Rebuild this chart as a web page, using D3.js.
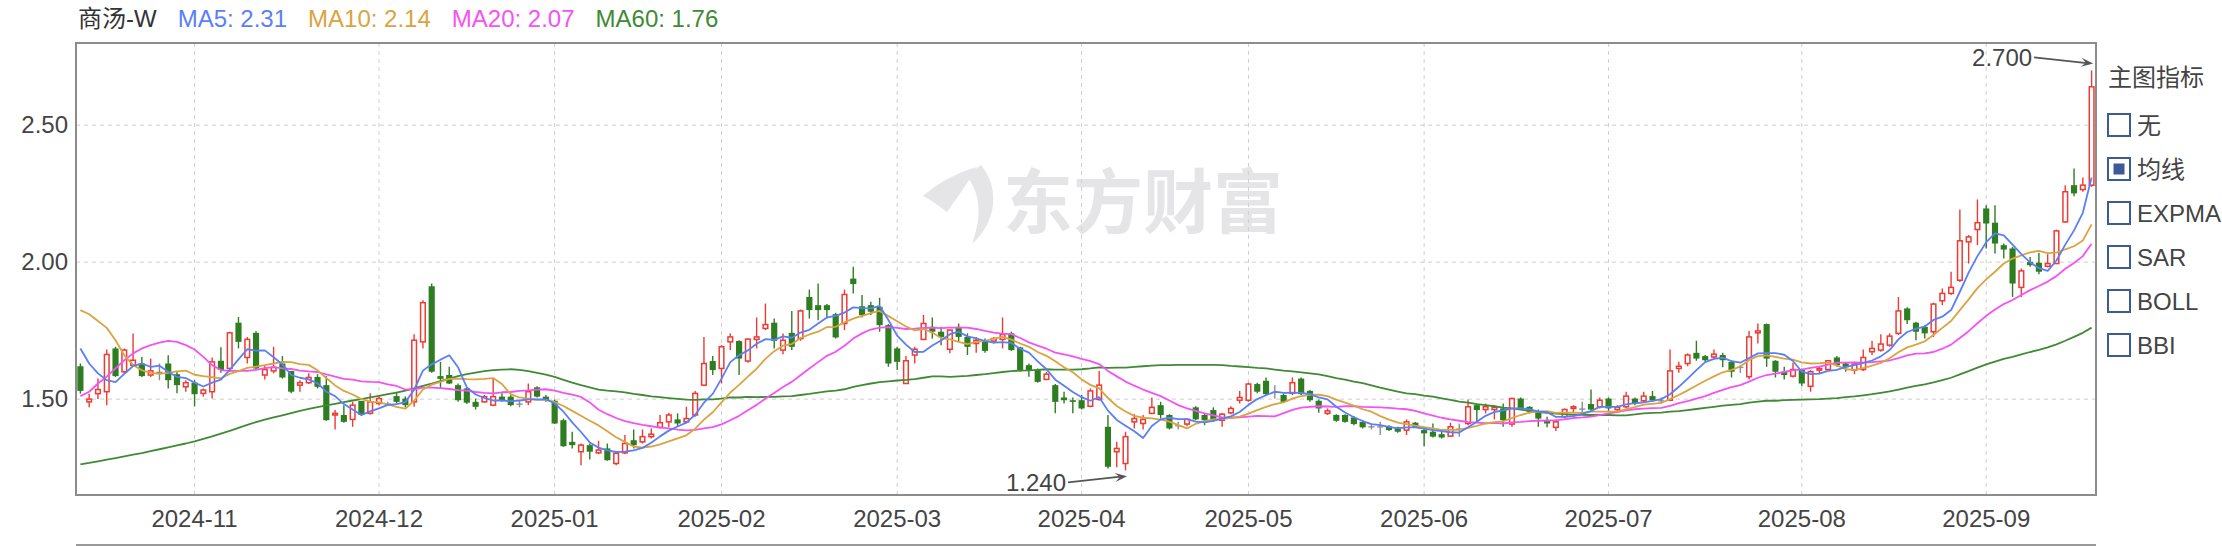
<!DOCTYPE html>
<html><head><meta charset="utf-8">
<script src="https://cdn.jsdelivr.net/npm/d3@7"></script>
<style>
html,body{margin:0;padding:0;background:#fff;}
svg{display:block;font-family:"Liberation Sans",Arial,Helvetica,"Noto Sans CJK SC",sans-serif;}
</style></head><body>
<svg id="chart" width="2222" height="546"></svg>
<script>
// ---------------- DATA ----------------
const stockName = "商汤-W";
const dates = [
"2024-10-15","2024-10-16","2024-10-17","2024-10-18","2024-10-21","2024-10-22","2024-10-23","2024-10-24","2024-10-25","2024-10-28","2024-10-29","2024-10-30","2024-10-31",
"2024-11-01","2024-11-04","2024-11-05","2024-11-06","2024-11-07","2024-11-08","2024-11-11","2024-11-12","2024-11-13","2024-11-14","2024-11-15","2024-11-18","2024-11-19","2024-11-20","2024-11-21","2024-11-22","2024-11-25","2024-11-26","2024-11-27","2024-11-28","2024-11-29",
"2024-12-02","2024-12-03","2024-12-04","2024-12-05","2024-12-06","2024-12-09","2024-12-10","2024-12-11","2024-12-12","2024-12-13","2024-12-16","2024-12-17","2024-12-18","2024-12-19","2024-12-20","2024-12-23","2024-12-24","2024-12-27","2024-12-30","2024-12-31",
"2025-01-02","2025-01-03","2025-01-06","2025-01-07","2025-01-08","2025-01-09","2025-01-10","2025-01-13","2025-01-14","2025-01-15","2025-01-16","2025-01-17","2025-01-20","2025-01-21","2025-01-22","2025-01-23","2025-01-24","2025-01-27","2025-01-28",
"2025-02-03","2025-02-04","2025-02-05","2025-02-06","2025-02-07","2025-02-10","2025-02-11","2025-02-12","2025-02-13","2025-02-14","2025-02-17","2025-02-18","2025-02-19","2025-02-20","2025-02-21","2025-02-24","2025-02-25","2025-02-26","2025-02-27","2025-02-28",
"2025-03-03","2025-03-04","2025-03-05","2025-03-06","2025-03-07","2025-03-10","2025-03-11","2025-03-12","2025-03-13","2025-03-14","2025-03-17","2025-03-18","2025-03-19","2025-03-20","2025-03-21","2025-03-24","2025-03-25","2025-03-26","2025-03-27","2025-03-28","2025-03-31",
"2025-04-01","2025-04-02","2025-04-03","2025-04-07","2025-04-08","2025-04-09","2025-04-10","2025-04-11","2025-04-14","2025-04-15","2025-04-16","2025-04-17","2025-04-22","2025-04-23","2025-04-24","2025-04-25","2025-04-28","2025-04-29","2025-04-30",
"2025-05-02","2025-05-06","2025-05-07","2025-05-08","2025-05-09","2025-05-12","2025-05-13","2025-05-14","2025-05-15","2025-05-16","2025-05-19","2025-05-20","2025-05-21","2025-05-22","2025-05-23","2025-05-26","2025-05-27","2025-05-28","2025-05-29","2025-05-30",
"2025-06-02","2025-06-03","2025-06-04","2025-06-05","2025-06-06","2025-06-09","2025-06-10","2025-06-11","2025-06-12","2025-06-13","2025-06-16","2025-06-17","2025-06-18","2025-06-19","2025-06-20","2025-06-23","2025-06-24","2025-06-25","2025-06-26","2025-06-27","2025-06-30",
"2025-07-02","2025-07-03","2025-07-04","2025-07-07","2025-07-08","2025-07-09","2025-07-10","2025-07-11","2025-07-14","2025-07-15","2025-07-16","2025-07-17","2025-07-18","2025-07-21","2025-07-22","2025-07-23","2025-07-24","2025-07-25","2025-07-28","2025-07-29","2025-07-30","2025-07-31",
"2025-08-01","2025-08-04","2025-08-05","2025-08-06","2025-08-07","2025-08-08","2025-08-11","2025-08-12","2025-08-13","2025-08-14","2025-08-15","2025-08-18","2025-08-19","2025-08-20","2025-08-21","2025-08-22","2025-08-25","2025-08-26","2025-08-27","2025-08-28","2025-08-29",
"2025-09-01","2025-09-02","2025-09-03","2025-09-04","2025-09-05","2025-09-08","2025-09-09","2025-09-10","2025-09-11","2025-09-12","2025-09-15","2025-09-16","2025-09-17"
];
const open = [
1.620,1.490,1.520,1.527,1.685,1.600,1.624,1.630,1.588,1.600,
1.630,1.591,1.545,1.560,1.521,1.527,1.640,1.612,1.779,1.652,
1.742,1.588,1.603,1.630,1.603,1.551,1.560,1.581,1.551,1.442,
1.442,1.426,1.493,1.448,1.484,1.484,1.511,1.502,1.490,1.709,
1.912,1.584,1.588,1.551,1.539,1.490,1.490,1.478,1.509,1.509,
1.484,1.490,1.543,1.509,1.494,1.423,1.344,1.308,1.332,1.304,
1.320,1.265,1.304,1.350,1.344,1.363,1.397,1.417,1.426,1.417,
1.442,1.551,1.639,1.612,1.709,1.712,1.639,1.718,1.758,1.779,
1.679,1.742,1.721,1.873,1.843,1.843,1.810,1.776,1.940,1.839,
1.843,1.837,1.770,1.685,1.557,1.661,1.718,1.764,1.746,1.682,
1.764,1.727,1.703,1.709,1.712,1.718,1.740,1.689,1.624,1.606,
1.572,1.551,1.506,1.496,1.496,1.474,1.499,1.399,1.308,1.265,
1.417,1.411,1.448,1.478,1.442,1.405,1.409,1.470,1.442,1.460,
1.423,1.450,1.496,1.496,1.555,1.567,1.527,1.515,1.521,1.575,
1.530,1.494,1.448,1.442,1.442,1.433,1.417,1.401,1.401,1.401,
1.397,1.387,1.414,1.387,1.381,1.372,1.365,1.393,1.411,1.478,
1.462,1.462,1.466,1.409,1.502,1.472,1.454,1.423,1.397,1.436,
1.466,1.466,1.482,1.472,1.502,1.462,1.472,1.502,1.494,1.511,
1.496,1.496,1.612,1.630,1.669,1.657,1.654,1.661,1.636,1.618,
1.582,1.742,1.774,1.640,1.600,1.584,1.608,1.547,1.606,1.608,
1.652,1.630,1.606,1.608,1.673,1.679,1.697,1.740,1.831,1.779,
1.764,1.746,1.859,1.886,1.934,2.074,2.119,2.196,2.144,2.062,
2.050,1.908,2.001,1.998,1.985,1.995,2.147,2.281,2.265,2.281];
const high = [
1.630,1.520,1.575,1.681,1.691,1.685,1.740,1.654,1.648,1.630,
1.660,1.600,1.569,1.569,1.539,1.652,1.689,1.746,1.800,1.727,
1.748,1.624,1.691,1.657,1.603,1.569,1.594,1.591,1.584,1.460,
1.478,1.490,1.494,1.521,1.515,1.490,1.527,1.510,1.737,1.861,
1.922,1.636,1.618,1.557,1.543,1.502,1.515,1.575,1.521,1.518,
1.496,1.557,1.547,1.515,1.499,1.429,1.381,1.338,1.338,1.348,
1.338,1.308,1.369,1.389,1.389,1.393,1.442,1.450,1.448,1.472,
1.530,1.727,1.657,1.697,1.740,1.715,1.721,1.798,1.849,1.794,
1.740,1.822,1.827,1.900,1.922,1.847,1.815,1.900,1.983,1.880,
1.855,1.870,1.774,1.691,1.657,1.691,1.807,1.798,1.764,1.754,
1.776,1.740,1.727,1.721,1.727,1.798,1.746,1.691,1.630,1.612,
1.600,1.555,1.527,1.506,1.515,1.539,1.603,1.442,1.344,1.381,
1.445,1.442,1.506,1.490,1.445,1.417,1.429,1.474,1.448,1.470,
1.450,1.474,1.530,1.560,1.560,1.579,1.551,1.521,1.579,1.579,
1.533,1.499,1.466,1.445,1.445,1.438,1.423,1.409,1.417,1.405,
1.399,1.426,1.417,1.393,1.411,1.381,1.414,1.411,1.499,1.484,
1.484,1.478,1.484,1.506,1.506,1.474,1.462,1.436,1.423,1.466,
1.478,1.490,1.535,1.506,1.506,1.478,1.527,1.506,1.527,1.530,
1.506,1.681,1.636,1.667,1.713,1.661,1.681,1.669,1.642,1.624,
1.749,1.776,1.776,1.642,1.618,1.633,1.612,1.606,1.618,1.642,
1.657,1.636,1.636,1.681,1.713,1.737,1.740,1.873,1.835,1.782,
1.770,1.852,1.904,1.965,2.192,2.099,2.229,2.208,2.208,2.068,
2.056,1.977,2.019,2.034,2.029,2.119,2.281,2.342,2.309,2.700];
const low = [
1.520,1.470,1.500,1.478,1.581,1.594,1.618,1.581,1.581,1.569,
1.539,1.521,1.527,1.474,1.509,1.502,1.596,1.600,1.685,1.630,
1.606,1.572,1.594,1.575,1.521,1.527,1.555,1.539,1.421,1.389,
1.414,1.399,1.438,1.444,1.478,1.475,1.484,1.470,1.472,1.685,
1.596,1.539,1.555,1.490,1.482,1.462,1.487,1.474,1.490,1.474,
1.470,1.478,1.506,1.490,1.409,1.326,1.320,1.259,1.280,1.299,
1.275,1.259,1.299,1.320,1.338,1.356,1.393,1.397,1.399,1.411,
1.436,1.547,1.588,1.557,1.679,1.588,1.633,1.685,1.752,1.685,
1.664,1.679,1.713,1.794,1.788,1.794,1.721,1.752,1.886,1.798,
1.807,1.746,1.618,1.606,1.555,1.630,1.715,1.721,1.697,1.667,
1.709,1.661,1.669,1.669,1.703,1.685,1.676,1.600,1.582,1.560,
1.569,1.448,1.484,1.448,1.462,1.470,1.494,1.247,1.251,1.240,
1.393,1.389,1.445,1.429,1.389,1.389,1.401,1.423,1.405,1.417,
1.399,1.445,1.484,1.490,1.521,1.515,1.502,1.487,1.515,1.515,
1.490,1.450,1.442,1.417,1.414,1.405,1.393,1.389,1.369,1.384,
1.377,1.369,1.397,1.328,1.360,1.356,1.363,1.363,1.405,1.417,
1.448,1.426,1.399,1.399,1.462,1.448,1.399,1.397,1.384,1.429,
1.450,1.445,1.454,1.466,1.457,1.454,1.466,1.478,1.487,1.490,
1.484,1.494,1.596,1.620,1.640,1.636,1.648,1.616,1.579,1.596,
1.572,1.703,1.618,1.579,1.572,1.579,1.547,1.527,1.591,1.606,
1.618,1.600,1.591,1.603,1.661,1.673,1.691,1.734,1.774,1.715,
1.721,1.727,1.843,1.880,1.928,1.995,2.062,2.050,2.032,2.013,
1.873,1.873,1.983,1.956,1.981,1.993,2.144,2.241,2.257,2.275];
const close = [
1.530,1.500,1.535,1.663,1.584,1.679,1.642,1.584,1.603,1.600,
1.569,1.551,1.560,1.518,1.533,1.636,1.606,1.742,1.709,1.718,
1.612,1.608,1.616,1.579,1.527,1.560,1.579,1.545,1.423,1.448,
1.417,1.478,1.442,1.490,1.502,1.484,1.490,1.478,1.715,1.852,
1.600,1.574,1.557,1.496,1.487,1.472,1.509,1.509,1.496,1.478,
1.484,1.527,1.509,1.496,1.411,1.328,1.332,1.332,1.308,1.314,
1.277,1.302,1.338,1.332,1.363,1.372,1.414,1.442,1.411,1.429,
1.521,1.630,1.606,1.691,1.727,1.648,1.719,1.727,1.772,1.713,
1.715,1.691,1.822,1.825,1.825,1.825,1.725,1.882,1.920,1.807,
1.819,1.770,1.630,1.636,1.640,1.682,1.776,1.746,1.727,1.752,
1.727,1.691,1.715,1.676,1.721,1.736,1.679,1.606,1.606,1.563,
1.591,1.490,1.496,1.490,1.466,1.530,1.551,1.253,1.320,1.363,
1.429,1.426,1.470,1.442,1.393,1.405,1.426,1.426,1.423,1.423,
1.445,1.466,1.506,1.555,1.527,1.518,1.527,1.490,1.560,1.518,
1.496,1.466,1.457,1.421,1.417,1.409,1.397,1.401,1.401,1.387,
1.381,1.417,1.399,1.375,1.363,1.360,1.399,1.393,1.472,1.460,
1.472,1.470,1.423,1.502,1.466,1.454,1.429,1.411,1.417,1.462,
1.472,1.466,1.462,1.496,1.466,1.470,1.511,1.484,1.511,1.496,
1.496,1.603,1.620,1.661,1.648,1.642,1.664,1.642,1.600,1.618,
1.727,1.749,1.648,1.600,1.588,1.608,1.557,1.600,1.612,1.640,
1.624,1.616,1.628,1.652,1.685,1.701,1.730,1.822,1.788,1.746,
1.740,1.847,1.886,1.908,2.078,2.092,2.144,2.141,2.068,2.046,
1.922,1.968,1.989,1.965,1.995,2.114,2.257,2.251,2.281,2.640];
const ma5 = [
1.685,1.630,1.594,1.569,1.562,1.592,1.621,1.630,1.618,1.622,
1.600,1.581,1.577,1.560,1.546,1.560,1.571,1.607,1.645,1.682,
1.677,1.678,1.653,1.627,1.588,1.578,1.572,1.558,1.527,1.511,
1.482,1.462,1.442,1.455,1.466,1.479,1.482,1.489,1.534,1.604,
1.627,1.644,1.660,1.616,1.543,1.517,1.504,1.495,1.495,1.493,
1.495,1.499,1.499,1.499,1.485,1.454,1.415,1.380,1.342,1.323,
1.313,1.307,1.308,1.313,1.322,1.341,1.364,1.385,1.400,1.414,
1.443,1.487,1.519,1.575,1.635,1.660,1.678,1.702,1.719,1.716,
1.729,1.724,1.743,1.753,1.776,1.798,1.804,1.816,1.835,1.832,
1.831,1.840,1.789,1.732,1.699,1.672,1.673,1.696,1.714,1.737,
1.746,1.729,1.722,1.712,1.706,1.708,1.705,1.684,1.670,1.638,
1.609,1.571,1.549,1.526,1.507,1.494,1.507,1.458,1.424,1.403,
1.383,1.358,1.402,1.426,1.432,1.427,1.427,1.418,1.415,1.421,
1.429,1.437,1.453,1.479,1.500,1.514,1.527,1.523,1.524,1.523,
1.518,1.506,1.499,1.472,1.451,1.434,1.420,1.409,1.405,1.399,
1.393,1.397,1.397,1.392,1.387,1.383,1.379,1.378,1.397,1.417,
1.439,1.453,1.459,1.465,1.467,1.463,1.455,1.452,1.435,1.435,
1.438,1.446,1.456,1.472,1.472,1.472,1.481,1.485,1.488,1.494,
1.500,1.518,1.545,1.575,1.606,1.635,1.647,1.651,1.639,1.633,
1.650,1.667,1.668,1.668,1.662,1.639,1.600,1.591,1.593,1.603,
1.607,1.618,1.624,1.632,1.641,1.656,1.679,1.718,1.745,1.757,
1.765,1.789,1.801,1.825,1.892,1.962,2.022,2.073,2.105,2.098,
2.064,2.029,1.999,1.978,1.968,2.006,2.064,2.116,2.180,2.309];
const ma10 = [
1.825,1.810,1.785,1.760,1.715,1.660,1.625,1.605,1.596,1.592,
1.596,1.601,1.604,1.589,1.584,1.580,1.576,1.592,1.602,1.614,
1.619,1.624,1.630,1.636,1.635,1.628,1.625,1.605,1.577,1.550,
1.530,1.517,1.500,1.491,1.488,1.481,1.472,1.465,1.494,1.535,
1.553,1.563,1.574,1.575,1.573,1.572,1.574,1.577,1.555,1.518,
1.506,1.502,1.497,1.497,1.489,1.475,1.457,1.439,1.421,1.404,
1.383,1.361,1.344,1.327,1.323,1.327,1.335,1.346,1.357,1.368,
1.392,1.425,1.452,1.488,1.524,1.552,1.582,1.611,1.647,1.675,
1.695,1.701,1.723,1.736,1.746,1.763,1.764,1.780,1.794,1.804,
1.814,1.822,1.803,1.784,1.765,1.751,1.756,1.743,1.723,1.718,
1.709,1.701,1.709,1.713,1.721,1.727,1.717,1.703,1.691,1.672,
1.658,1.638,1.616,1.598,1.572,1.552,1.539,1.504,1.475,1.455,
1.439,1.432,1.430,1.425,1.418,1.405,1.393,1.410,1.420,1.426,
1.428,1.432,1.436,1.447,1.460,1.472,1.482,1.488,1.502,1.511,
1.516,1.516,1.511,1.498,1.487,1.476,1.463,1.454,1.438,1.425,
1.414,1.409,1.403,1.398,1.393,1.388,1.388,1.388,1.395,1.402,
1.411,1.416,1.419,1.431,1.442,1.451,1.454,1.456,1.450,1.451,
1.451,1.450,1.454,1.454,1.454,1.455,1.463,1.471,1.480,1.483,
1.486,1.500,1.515,1.532,1.550,1.567,1.583,1.598,1.607,1.619,
1.643,1.657,1.660,1.654,1.648,1.644,1.634,1.630,1.631,1.633,
1.623,1.609,1.607,1.613,1.622,1.632,1.649,1.671,1.689,1.699,
1.711,1.734,1.760,1.785,1.825,1.864,1.905,1.937,1.965,1.995,
2.013,2.025,2.036,2.041,2.033,2.035,2.047,2.058,2.079,2.138];
const ma20 = [
1.511,1.527,1.557,1.582,1.612,1.642,1.667,1.685,1.697,1.706,
1.713,1.709,1.697,1.681,1.654,1.624,1.606,1.603,1.603,1.603,
1.607,1.613,1.617,1.612,1.610,1.604,1.601,1.599,1.590,1.582,
1.574,1.571,1.565,1.563,1.562,1.554,1.548,1.535,1.536,1.542,
1.542,1.540,1.537,1.533,1.531,1.526,1.523,1.521,1.525,1.526,
1.530,1.532,1.535,1.536,1.531,1.523,1.516,1.508,1.488,1.461,
1.445,1.431,1.420,1.412,1.406,1.401,1.396,1.393,1.389,1.386,
1.388,1.393,1.398,1.408,1.423,1.439,1.459,1.479,1.502,1.522,
1.544,1.563,1.587,1.612,1.635,1.658,1.673,1.695,1.721,1.740,
1.754,1.761,1.763,1.760,1.756,1.757,1.760,1.761,1.759,1.761,
1.761,1.761,1.756,1.749,1.743,1.739,1.737,1.723,1.707,1.695,
1.684,1.670,1.663,1.656,1.647,1.639,1.628,1.603,1.583,1.564,
1.549,1.535,1.523,1.511,1.495,1.478,1.466,1.457,1.448,1.441,
1.433,1.432,1.433,1.436,1.439,1.438,1.437,1.449,1.461,1.469,
1.472,1.474,1.473,1.472,1.474,1.474,1.472,1.471,1.470,1.468,
1.465,1.463,1.457,1.448,1.440,1.432,1.426,1.421,1.416,1.414,
1.412,1.413,1.411,1.415,1.417,1.420,1.421,1.422,1.423,1.426,
1.431,1.433,1.436,1.442,1.448,1.453,1.459,1.463,1.465,1.467,
1.468,1.475,1.485,1.493,1.502,1.511,1.523,1.534,1.544,1.551,
1.564,1.578,1.588,1.593,1.599,1.606,1.608,1.614,1.619,1.626,
1.633,1.633,1.634,1.633,1.635,1.638,1.641,1.650,1.660,1.666,
1.667,1.672,1.684,1.699,1.723,1.748,1.777,1.804,1.827,1.847,
1.862,1.880,1.898,1.913,1.929,1.949,1.976,1.997,2.022,2.067];
const ma60 = [
1.262,1.267,1.273,1.279,1.285,1.291,1.297,1.303,1.310,1.317,
1.324,1.331,1.338,1.346,1.355,1.364,1.374,1.384,1.395,1.406,
1.416,1.425,1.433,1.441,1.449,1.457,1.464,1.471,1.477,1.483,
1.489,1.495,1.500,1.506,1.512,1.518,1.524,1.531,1.539,1.548,
1.557,1.566,1.575,1.584,1.591,1.597,1.602,1.606,1.608,1.609,
1.607,1.602,1.596,1.589,1.581,1.570,1.560,1.551,1.543,1.535,
1.531,1.528,1.525,1.519,1.515,1.510,1.507,1.504,1.501,1.498,
1.497,1.499,1.499,1.502,1.506,1.506,1.508,1.507,1.508,1.508,
1.510,1.511,1.515,1.519,1.524,1.528,1.531,1.536,1.545,1.551,
1.557,1.562,1.565,1.568,1.570,1.573,1.578,1.583,1.583,1.581,
1.583,1.585,1.588,1.591,1.595,1.599,1.602,1.604,1.605,1.607,
1.609,1.608,1.608,1.608,1.609,1.612,1.616,1.614,1.615,1.615,
1.618,1.620,1.622,1.624,1.624,1.625,1.625,1.625,1.625,1.625,
1.624,1.621,1.619,1.617,1.614,1.612,1.608,1.604,1.601,1.598,
1.594,1.590,1.584,1.577,1.571,1.564,1.558,1.550,1.542,1.535,
1.527,1.521,1.518,1.513,1.509,1.503,1.497,1.491,1.487,1.482,
1.478,1.474,1.469,1.466,1.462,1.457,1.453,1.450,1.447,1.445,
1.443,1.443,1.442,1.442,1.442,1.441,1.441,1.444,1.448,1.450,
1.451,1.454,1.456,1.460,1.464,1.468,1.472,1.476,1.479,1.482,
1.487,1.491,1.494,1.494,1.496,1.497,1.498,1.499,1.500,1.502,
1.504,1.507,1.510,1.514,1.518,1.523,1.528,1.535,1.542,1.548,
1.554,1.561,1.569,1.578,1.590,1.602,1.615,1.627,1.637,1.647,
1.654,1.663,1.672,1.680,1.689,1.700,1.713,1.727,1.742,1.761];
const monthTicks = ["2024-11","2024-12","2025-01","2025-02","2025-03","2025-04","2025-05","2025-06","2025-07","2025-08","2025-09"];
const yTicks = [1.50, 2.00, 2.50];
const indicatorOptions = ["无","均线","EXPMA","SAR","BOLL","BBI"];
const selectedIndicator = "均线";
const panelTitle = "主图指标";
const watermarkText = "东方财富";

// ---------------- CHART ----------------
const plot = {left: 76, right: 2096, top: 43, bottom: 495};
const svg = d3.select("#chart");
const textColor = "#444";
const upColor = "#ee3a33", downColor = "#2e7d21", flatColor = "#8c8c8c";
const maColors = {MA5: "#5a7ff8", MA10: "#d9a441", MA20: "#f452f4", MA60: "#408a35"};

const x = d3.scaleBand().domain(dates).range([plot.left, plot.right]).paddingInner(0.3).paddingOuter(0.15);
const y = d3.scaleLinear().domain([1.15, 2.80]).range([plot.bottom, plot.top]);
const bw = x.bandwidth();
const cx = d => x(d) + bw / 2;

// watermark
const wm = svg.append("g").attr("fill", "#e5e5e7");
wm.append("path").attr("d", "M923,196 C940,181 960,172 977,167 C968,183 956,199 947,212 C939,206 931,200 923,196 Z");
wm.append("path").attr("d", "M981,165 C1000,188 997,222 972,244 C980,222 983,198 968,178 C972,173 977,168 981,165 Z");
wm.append("text").attr("x", 1003).attr("y", 228).attr("font-size", 70).attr("font-weight", 700)
  .attr("font-family", "'Noto Sans CJK SC', sans-serif").text(watermarkText);

// grid
const tickDates = monthTicks.map(m => dates.find(d => d.startsWith(m)));
const grid = svg.append("g").attr("stroke", "#cfcfcf").attr("stroke-width", 1).attr("stroke-dasharray", "4,4");
grid.selectAll("line.h").data(yTicks).join("line").attr("class", "h")
  .attr("x1", plot.left).attr("x2", plot.right).attr("y1", d => y(d)).attr("y2", d => y(d));
grid.selectAll("line.v").data(tickDates).join("line").attr("class", "v")
  .attr("x1", d => cx(d)).attr("x2", d => cx(d)).attr("y1", plot.top).attr("y2", plot.bottom);

// candles
const candles = dates.map((d, i) => ({date: d, o: open[i], h: high[i], l: low[i], c: close[i]}));
const colorOf = d => d.c > d.o ? upColor : (d.c < d.o ? downColor : flatColor);
const cg = svg.append("g");
cg.selectAll("line").data(candles).join("line")
  .attr("x1", d => cx(d.date)).attr("x2", d => cx(d.date))
  .attr("y1", d => y(d.h)).attr("y2", d => y(d.l))
  .attr("stroke", colorOf).attr("stroke-width", 1.4);
cg.selectAll("rect").data(candles).join("rect")
  .attr("x", d => x(d.date) + (d.c > d.o ? 0.75 : 0))
  .attr("y", d => y(Math.max(d.o, d.c)))
  .attr("width", d => d.c > d.o ? bw - 1.5 : bw)
  .attr("height", d => Math.max(1.3, Math.abs(y(d.o) - y(d.c))))
  .attr("fill", d => d.c > d.o ? "#fff" : colorOf(d))
  .attr("stroke", d => d.c > d.o ? upColor : "none")
  .attr("stroke-width", 1.5);

// moving averages
const maSeries = [
  {name: "MA60", values: ma60}, {name: "MA20", values: ma20},
  {name: "MA10", values: ma10}, {name: "MA5", values: ma5}];
const line = d3.line().x((v, i) => cx(dates[i])).y(v => y(v));
svg.append("g").selectAll("path").data(maSeries).join("path")
  .attr("d", s => line(s.values)).attr("fill", "none")
  .attr("stroke", s => maColors[s.name]).attr("stroke-width", 1.8).attr("stroke-linejoin", "round");

// frame
svg.append("rect").attr("x", plot.left).attr("y", plot.top)
  .attr("width", plot.right - plot.left).attr("height", plot.bottom - plot.top)
  .attr("fill", "none").attr("stroke", "#8c8c8c").attr("stroke-width", 2);

// axes
const yAxis = d3.axisLeft(y).tickValues(yTicks).tickFormat(d3.format(".2f")).tickSize(0).tickPadding(8);
svg.append("g").attr("transform", `translate(${plot.left},0)`).call(yAxis)
  .attr("font-size", 24).attr("font-family", null)
  .call(g => g.select(".domain").remove())
  .call(g => g.selectAll("text").attr("fill", textColor));
const xAxis = d3.axisBottom(x).tickValues(tickDates).tickFormat(d => d.slice(0, 7)).tickSize(0).tickPadding(15);
svg.append("g").attr("transform", `translate(0,${plot.bottom})`).call(xAxis)
  .attr("font-size", 24).attr("font-family", null)
  .call(g => g.select(".domain").remove())
  .call(g => g.selectAll("text").attr("fill", textColor));
svg.append("line").attr("x1", plot.left).attr("x2", plot.right).attr("y1", 545).attr("y2", 545)
  .attr("stroke", "#999").attr("stroke-width", 2);

// extreme annotations
function annotate(i, value, above) {
  const tx = cx(dates[i]) + 1.5;
  const ty = above ? y(value) - 7 : y(value) + 6;
  const lx = tx - 59, ly = above ? ty - 6 : ty + 6;
  const g = svg.append("g");
  g.append("line").attr("x1", lx).attr("y1", ly).attr("x2", tx - 4).attr("y2", ty)
    .attr("stroke", "#555").attr("stroke-width", 1.6);
  const a = Math.atan2(ty - ly, tx - lx), L = 12, Wd = 4.5;
  const p1 = [tx - L * Math.cos(a) + Wd * Math.sin(a), ty - L * Math.sin(a) - Wd * Math.cos(a)];
  const p2 = [tx - L * Math.cos(a) - Wd * Math.sin(a), ty - L * Math.sin(a) + Wd * Math.cos(a)];
  const p0 = [tx - 0.6 * L * Math.cos(a), ty - 0.6 * L * Math.sin(a)];
  g.append("path").attr("d", `M${tx},${ty}L${p1}L${p0}L${p2}Z`).attr("fill", "#555");
  g.append("text").attr("x", lx - 2).attr("y", ly).attr("text-anchor", "end")
    .attr("dominant-baseline", "central").attr("font-size", 24).attr("fill", textColor)
    .text(value.toFixed(3));
}
const iMax = d3.maxIndex(high), iMin = d3.minIndex(low);
annotate(iMax, high[iMax], true);
annotate(iMin, low[iMin], false);

// legend
const n = dates.length;
const legendItems = [
  {text: stockName, color: "#333"},
  {text: `MA5: ${ma5[n - 1].toFixed(2)}`, color: maColors.MA5},
  {text: `MA10: ${ma10[n - 1].toFixed(2)}`, color: maColors.MA10},
  {text: `MA20: ${ma20[n - 1].toFixed(2)}`, color: maColors.MA20},
  {text: `MA60: ${ma60[n - 1].toFixed(2)}`, color: maColors.MA60}];
let lgx = 78;
legendItems.forEach(it => {
  const t = svg.append("text").attr("x", lgx).attr("y", 18).attr("dominant-baseline", "central")
    .attr("font-size", 24).attr("fill", it.color).text(it.text);
  lgx += t.node().getComputedTextLength() + 21;
});

// indicator panel
const px = 2108;
svg.append("text").attr("x", px).attr("y", 77).attr("dominant-baseline", "central")
  .attr("font-size", 24).attr("fill", textColor).text(panelTitle);
indicatorOptions.forEach((name, k) => {
  const cy = 125 + k * 44;
  svg.append("rect").attr("x", px).attr("y", cy - 11).attr("width", 22).attr("height", 22)
    .attr("fill", "#fff").attr("stroke", "#3b5a98").attr("stroke-width", 2);
  if (name === selectedIndicator) {
    svg.append("rect").attr("x", px + 5.5).attr("y", cy - 5.5).attr("width", 11).attr("height", 11)
      .attr("fill", "#3b5a98");
  }
  svg.append("text").attr("x", px + 29).attr("y", cy).attr("dominant-baseline", "central")
    .attr("font-size", 24).attr("fill", textColor).text(name);
});
</script>
</body></html>
